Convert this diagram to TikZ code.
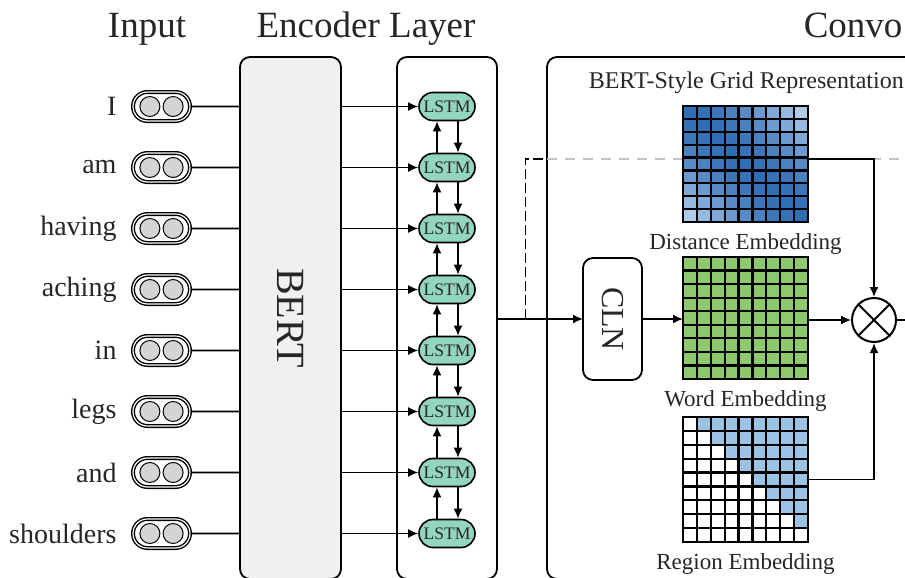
\documentclass[tikz,border=0pt]{standalone}
\usepackage{fontspec}
\setmainfont{Liberation Serif}
\usepackage{tikz}
\usetikzlibrary{arrows.meta,calc,positioning,shapes.misc}

\definecolor{lstmgreen}{HTML}{93D6BE}
\definecolor{bertgrey}{HTML}{F0F0F0}
\definecolor{tokengrey}{HTML}{D4D4D4}
\definecolor{distdark}{HTML}{2F6DB4}
\definecolor{distlight}{HTML}{AECBEA}
\definecolor{wordgreen}{HTML}{8DC86C}
\definecolor{regionblue}{HTML}{9CC2E6}
\definecolor{guidegrey}{HTML}{C4C4C4}

\tikzset{
	enc diagram/.style={
		x=0.5pt, y=0.5pt,
		line width=0.8pt,
		>={Latex[length=5pt,width=4.5pt]},
		ar/.style={->},
		node distance=7.5pt,
		every node/.style={text=black!85}
		},
	title/.style={font=\fontsize{18.5}{22}\selectfont},
	word/.style={font=\fontsize{14}{16}\selectfont, inner sep=0pt},
	caption/.style={font=\fontsize{11.5}{13}\selectfont, inner sep=1pt},
	token/.style={rounded rectangle, draw, line width=0.7pt, double=white, double distance=0.6pt,
		minimum width=28.5pt, minimum height=14.5pt, inner sep=0pt,
		path picture={\foreach \s in {-1,1}
			\draw[fill=tokengrey, line width=0.5pt] ([xshift=\s*5.8pt]path picture bounding box.center) circle (5pt);}},
	panel/.style={draw, line width=0.9pt, rounded corners=5pt, inner sep=0pt, outer sep=0pt},
	lstm/.style={rounded rectangle, draw, fill=lstmgreen, minimum width=28pt, minimum height=14pt,
		inner sep=0pt, font=\fontsize{8.8}{10}\selectfont},
	cell/.style={draw, line width=1.1pt},
	embgrid/.style={draw, line width=1.1pt, minimum width=62.5pt, minimum height=#1, inner sep=0pt, outer sep=0pt},
	dashed line/.style={dash pattern=on 5pt off 2pt},
	guide/.style={guidegrey, line width=0.6pt, dash pattern=on 5pt off 4pt}
}

\begin{document}
\begin{tikzpicture}[enc diagram]
   \useasboundingbox (0,0) rectangle (905,-578);
   \clip (0,0) rectangle (905,-578);
   \coordinate (edge) at (905,0);
   \coordinate (dline) at (0,-159);

   % column titles
   \node[title, anchor=base] (intitle) at (147,-38) {Input};
   \node[title, anchor=base] (enctitle) at (366,-38) {Encoder Layer};
   \node[title, anchor=base west, inner sep=0pt] (convtitle) at (803,-38) {Convo};

   % panels
   \node[panel, fill=bertgrey, minimum width=50.5pt, minimum height=261pt] (bert) at (290.5,-318) {};
   \node[rotate=-90, font=\fontsize{20}{22}\selectfont] (bertlabel) at (bert) {BERT};
   \node[panel, minimum width=50pt, minimum height=261pt] (bilstm) at (447,-318) {};
   \node[panel, minimum width=250pt, minimum height=261pt, anchor=north west] (conv) at (547,-57) {};

   % tokens, BERT outputs and the LSTM chain
   \foreach \w [count=\i] in {I,am,having,aching,in,legs,and,shoulders} {
      \pgfmathsetmacro\yy{-106.5-61*(\i-1)}
      \node[token] (tok\i) at (161.5,\yy) {};
      \node[word, left=of tok\i] (w\i) {\w};
      \node[lstm] (lstm\i) at (447,\yy) {LSTM};
      \draw (tok\i) -- (tok\i -| bert.west);
      \draw[ar] (tok\i -| bert.east) -- (lstm\i);
   }
   \foreach \i [evaluate=\i as \j using int(\i+1)] in {1,...,7} {
      \draw[ar] ([xshift=-5pt]lstm\j.north) -- ([xshift=-5pt]lstm\i.south);
      \draw[ar] ([xshift=5.5pt]lstm\i.south) -- ([xshift=5.5pt]lstm\j.north);
   }

   \node[panel, minimum width=29.5pt, minimum height=61pt] (cln) at (612.5,-319) {};
   \node[rotate=-90, font=\fontsize{16}{18}\selectfont] (clnlabel) at (cln) {CLN};
   \draw[ar] (bilstm.east |- cln.west) -- (cln.west);
   \coordinate (split) at ($(bilstm.east |- cln.west)!0.33!(cln.west)$);
   \draw[guide] (conv.west |- dline) -- (edge |- dline);
   \draw[dashed line] (split) |- (conv.west |- dline);

   \node[anchor=base west, inner sep=0pt, font=\fontsize{12}{14}\selectfont] (gridtitle) at (588,-88) {BERT-Style Grid Representation};

   % embedding grids
   \node[embgrid=58pt] (dist) at (745.5,-164) {};
   \node[embgrid=61pt, fill=wordgreen] (word) at (745.5,-318) {};
   \node[embgrid=62.5pt] (region) at (745.5,-479.5) {};
   \foreach \r in {0,...,8}
      \foreach \c in {0,...,8} {
         \pgfmathtruncatemacro\shade{100-100*(abs(\r-\c)/8)^1.6}
         \ifnum\c>\r \def\rcol{regionblue}\else\def\rcol{white}\fi
         \draw[cell, fill=distdark!\shade!distlight] ($(dist.north west)+(\c*13.889,-\r*12.889)$) rectangle +(13.889,-12.889);
         \draw[cell] ($(word.north west)+(\c*13.889,-\r*13.556)$) rectangle +(13.889,-13.556);
         \draw[cell, fill=\rcol] ($(region.north west)+(\c*13.889,-\r*13.889)$) rectangle +(13.889,-13.889);
      }
   \node[caption, below=4.5pt of dist] (distcap) {Distance Embedding};
   \node[caption, below=4.5pt of word] (wordcap) {Word Embedding};
   \node[caption, below=4.5pt of region] (regioncap) {Region Embedding};

   % element-wise product
   \node[circle, draw, line width=1pt, minimum size=22pt, inner sep=0pt] (mul) at (874,-320) {};
   \draw[line width=1pt] (mul.45) -- (mul.225) (mul.135) -- (mul.315);
   \draw[ar] (cln.east) -- (word.west |- cln.east);
   \draw[ar] (word.east |- mul.west) -- (mul.west);
   \draw[ar] (dist.east |- dline) -| (mul.north);
   \draw[ar] (region.east) -| (mul.south);
   \draw (mul.east) -- (edge |- mul.east);
\end{tikzpicture}
\end{document}
